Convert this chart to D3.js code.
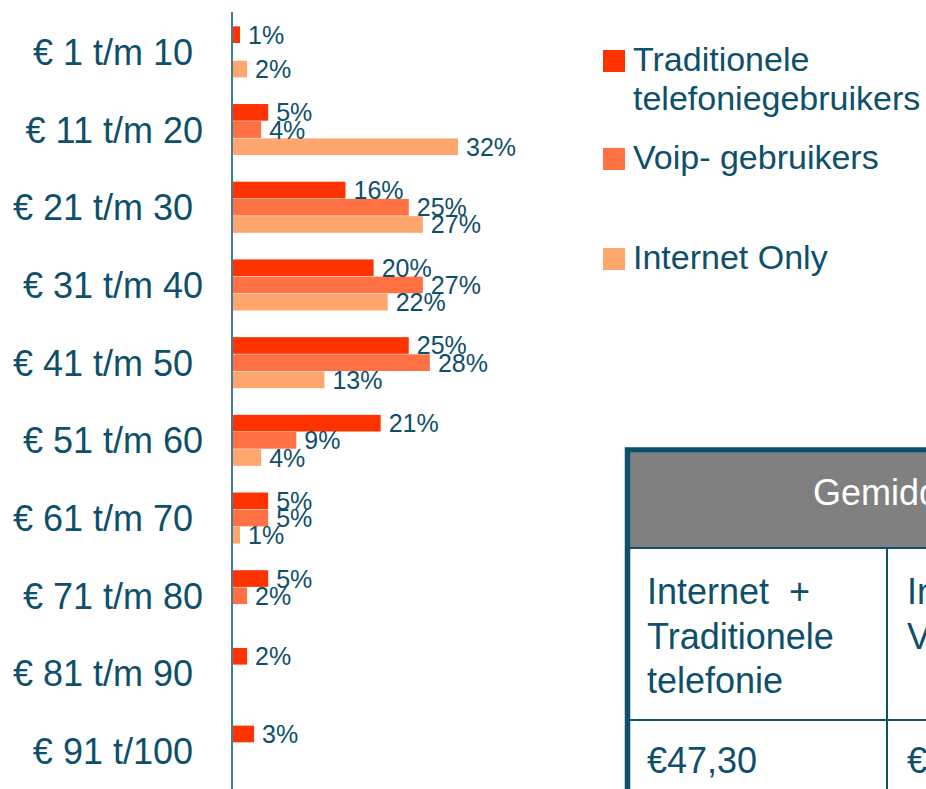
<!DOCTYPE html>
<html>
<head>
<meta charset="utf-8">
<script src="https://cdn.jsdelivr.net/npm/d3@7"></script>
<style>
  body { margin: 0; background: #fff; }
  text { font-family: "Liberation Sans", Arial, sans-serif; fill: #0e4f6a; }
</style>
</head>
<body>
<div id="chart"></div>
<script>
// categories (some labels keep their trailing space, as in the original slide)
const categories = ["€ 1 t/m 10 ", "€ 11 t/m 20", "€ 21 t/m 30 ", "€ 31 t/m 40", "€ 41 t/m 50 ",
                    "€ 51 t/m 60", "€ 61 t/m 70 ", "€ 71 t/m 80", "€ 81 t/m 90 ", "€ 91 t/100 "];
const seriesNames = ["Traditionele telefoniegebruikers", "Voip- gebruikers", "Internet Only"];
const traditioneel = [1, 5, 16, 20, 25, 21, 5, 5, 2, 3];
const voip = [null, 4, 25, 27, 28, 9, 5, 2, null, null];
const internetOnly = [2, 32, 27, 22, 13, 4, 1, null, null, null];
const colors = ["#ff3300", "#ff7043", "#ffa66f"];

const tableTitle = "Gemiddelde maandelijkse uitgaven";
const tableColumns = [["Internet  +", "Traditionele", "telefonie"], ["Internet  +", "VoIP"]];
const tableValues = ["€47,30", "€"];

const width = 926, height = 789;
const svg = d3.select("#chart").append("svg")
    .attr("width", width)
    .attr("height", height);

let seriesValues = [traditioneel, voip, internetOnly];
let rows = [];
categories.forEach((c, i) => {
    seriesValues.forEach((vals, s) => {
        if (vals[i] != null) rows.push({cat: c, series: seriesNames[s], value: vals[i], idx: s});
    });
});

let y0 = d3.scaleBand().domain(categories).range([13, 790]).paddingInner(0.33).paddingOuter(0.165);
let y1 = d3.scaleBand().domain(seriesNames).range([0, y0.bandwidth()]).padding(0.03);
let x = d3.scaleLinear().domain([0, d3.max(rows, d => d.value)]).range([233, 458]);

// bars
svg.append("g").selectAll("rect")
    .data(rows)
    .join("rect")
    .attr("x", x(0))
    .attr("y", d => y0(d.cat) + y1(d.series))
    .attr("width", d => x(d.value) - x(0))
    .attr("height", y1.bandwidth())
    .attr("fill", d => colors[d.idx]);

// value labels
svg.append("g").selectAll("text")
    .data(rows)
    .join("text")
    .attr("x", d => x(d.value) + 8)
    .attr("y", d => y0(d.cat) + y1(d.series) + y1.bandwidth() / 2)
    .attr("dy", "0.36em")
    .style("font-size", "25px")
    .text(d => d.value + "%");

// category axis
let yAxis = d3.axisLeft(d3.scaleBand().domain(categories).range([13, 790]))
    .tickSize(0).tickPadding(29);
let ax = svg.append("g").attr("transform", "translate(232,0)").call(yAxis);
ax.select(".domain").attr("stroke", "#1a5a78").attr("stroke-width", 1.6).attr("d", "M0,12V789");
ax.selectAll("text")
    .style("font-size", "36px")
    .style("white-space", "pre")
    .style("font-family", "'Liberation Sans', Arial, sans-serif")
    .attr("fill", "#0e4f6a")
    .attr("dy", "0.36em");

// legend
let legendY = [50, 148, 248];
let legendText = [["Traditionele", "telefoniegebruikers"], ["Voip- gebruikers"], ["Internet Only"]];
let legend = svg.append("g");
seriesNames.forEach((s, i) => {
    legend.append("rect")
        .attr("x", 603).attr("y", legendY[i])
        .attr("width", 22).attr("height", 22)
        .attr("fill", colors[i]);
    let t = legend.append("text")
        .attr("x", 633).attr("y", legendY[i] + 21)
        .style("font-size", "34px");
    legendText[i].forEach((line, j) => {
        t.append("tspan").attr("x", 633).attr("dy", j === 0 ? 0 : 39).text(line);
    });
});

// table
let tbl = svg.append("g");
tbl.append("rect").attr("x", 630).attr("y", 453).attr("width", 400).attr("height", 95).attr("fill", "#808080");
tbl.append("text")
    .attr("x", 813).attr("y", 505)
    .style("font-size", "36px")
    .style("fill", "#fff")
    .text(tableTitle);
tbl.append("line").attr("x1", 630).attr("x2", 930).attr("y1", 548).attr("y2", 548)
    .attr("stroke", "#0e4f6a").attr("stroke-width", 2);
tbl.append("line").attr("x1", 630).attr("x2", 930).attr("y1", 720).attr("y2", 720)
    .attr("stroke", "#0e4f6a").attr("stroke-width", 2);
tbl.append("line").attr("x1", 887).attr("x2", 887).attr("y1", 548).attr("y2", 789)
    .attr("stroke", "#0e4f6a").attr("stroke-width", 2);
// thick outer border
tbl.append("path")
    .attr("d", "M627.5,789V450H930")
    .attr("fill", "none")
    .attr("stroke", "#0e4f6a")
    .attr("stroke-width", 5.5);

let colX = [647, 907];
tableColumns.forEach((lines, c) => {
    let t = tbl.append("text").attr("x", colX[c]).attr("y", 604).style("font-size", "36px").style("white-space", "pre");
    lines.forEach((line, j) => {
        t.append("tspan").attr("x", colX[c]).attr("dy", j === 0 ? 0 : 44.5).text(line);
    });
    tbl.append("text").attr("x", colX[c]).attr("y", 773).style("font-size", "36px").text(tableValues[c]);
});
</script>
</body>
</html>
